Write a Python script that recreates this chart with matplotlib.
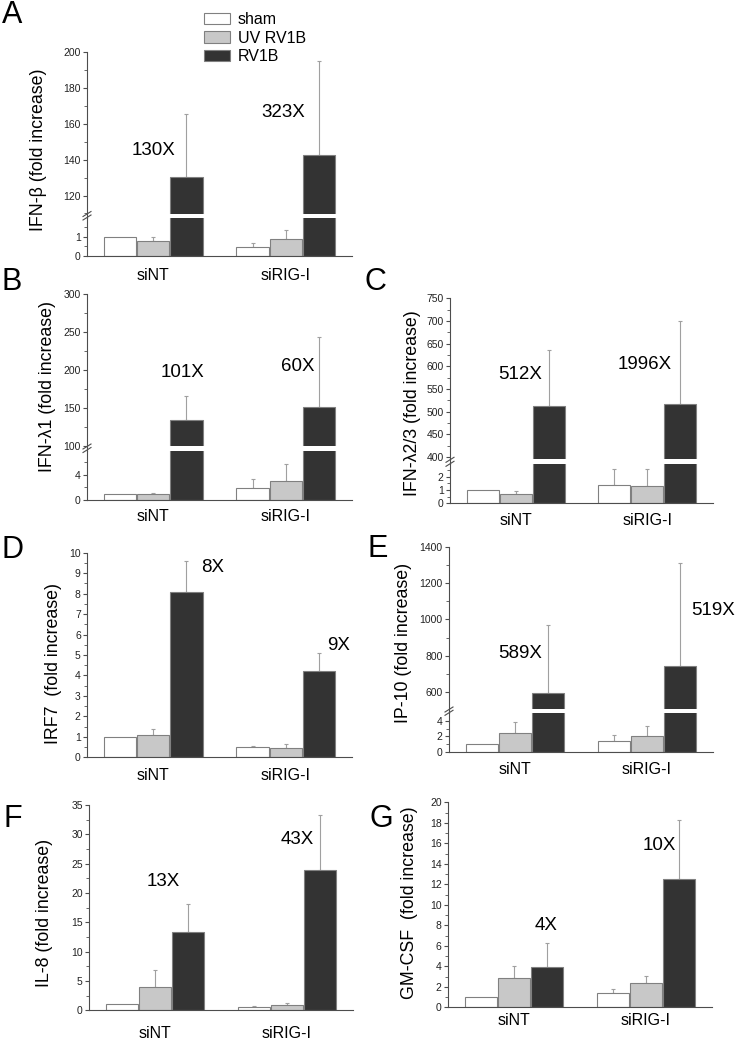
import numpy as np
import matplotlib.pyplot as plt
from matplotlib.ticker import MultipleLocator
from matplotlib.lines import Line2D

plt.rcParams['font.family'] = ['Liberation Sans', 'DejaVu Sans']

W, H = 738, 1050

groups = ["siNT", "siRIG-I"]
series = ["sham", "UV RV1B", "RV1B"]
colors = ["white", "#c8c8c8", "#333333"]

# A: IFN-beta
a_sham = [1.0, 0.45]
a_sham_err = [0.0, 0.21]
a_uv = [0.78, 0.87]
a_uv_err = [0.2, 0.47]
a_rv = [130.5, 142.5]
a_rv_err = [35.0, 52.5]
a_fold = ["130X", "323X"]

# B: IFN-lambda1
b_sham = [1.0, 1.85]
b_sham_err = [0.0, 1.5]
b_uv = [1.02, 2.95]
b_uv_err = [0.1, 2.65]
b_rv = [134.0, 151.0]
b_rv_err = [31.0, 92.5]
b_fold = ["101X", "60X"]

# C: IFN-lambda2/3
c_sham = [1.0, 1.36]
c_sham_err = [0.0, 1.22]
c_uv = [0.7, 1.33]
c_uv_err = [0.22, 1.25]
c_rv = [512.0, 518.0]
c_rv_err = [123.0, 182.0]
c_fold = ["512X", "1996X"]

# D: IRF7
d_sham = [1.0, 0.5]
d_sham_err = [0.0, 0.07]
d_uv = [1.08, 0.46]
d_uv_err = [0.3, 0.2]
d_rv = [8.1, 4.2]
d_rv_err = [1.5, 0.9]
d_fold = ["8X", "9X"]

# E: IP-10
e_sham = [1.0, 1.47]
e_sham_err = [0.0, 0.72]
e_uv = [2.5, 2.1]
e_uv_err = [1.35, 1.27]
e_rv = [590.0, 741.0]
e_rv_err = [380.0, 570.0]
e_fold = ["589X", "519X"]

# F: IL-8
f_sham = [1.0, 0.57]
f_sham_err = [0.0, 0.23]
f_uv = [3.9, 0.85]
f_uv_err = [3.0, 0.45]
f_rv = [13.3, 24.0]
f_rv_err = [4.8, 9.3]
f_fold = ["13X", "43X"]

# G: GM-CSF
g_sham = [1.0, 1.35]
g_sham_err = [0.0, 0.45]
g_uv = [2.85, 2.35]
g_uv_err = [1.15, 0.72]
g_rv = [3.93, 12.5]
g_rv_err = [2.3, 5.8]
g_fold = ["4X", "10X"]

# layout in pixels: left, right, (ymin, ymax, px_bottom, px_top) for lower / upper part
panels = [
    dict(letter="A", let_xy=(2, 23), ylabel="IFN-β (fold increase)", lab_xy=(39, 150),
         data=[(a_sham, a_sham_err), (a_uv, a_uv_err), (a_rv, a_rv_err)], fold=a_fold,
         fold_xy=[(0.0, 145), (0.98, 166)], l=87, r=352,
         low=(0, 1.97, 256, 218), low_ticks=(1, 0.5), up=(110, 200, 213.5, 51.7), up_ticks=(20, 10), pad=8.6),
    dict(letter="B", let_xy=(2, 290), ylabel="IFN-λ1 (fold increase)", lab_xy=(48, 387),
         data=[(b_sham, b_sham_err), (b_uv, b_uv_err), (b_rv, b_rv_err)], fold=b_fold,
         fold_xy=[(0.22, 196), (1.09, 204)], l=87, r=352,
         low=(0, 7.8, 500, 450.5), low_ticks=(4, 2), up=(100, 300, 446, 293.5), up_ticks=(50, 25), pad=6.5),
    dict(letter="C", let_xy=(364, 290), ylabel="IFN-λ2/3 (fold increase)", lab_xy=(412, 403),
         data=[(c_sham, c_sham_err), (c_uv, c_uv_err), (c_rv, c_rv_err)], fold=c_fold,
         fold_xy=[(0.03, 582), (0.98, 603)], l=450, r=713,
         low=(0, 2.93, 503.3, 464.3), low_ticks=(1, 0.5), up=(395, 750, 459.3, 298.3), up_ticks=(50, 25), pad=7),
    dict(letter="D", let_xy=(2, 558), ylabel="IRF7  (fold increase)", lab_xy=(54, 664),
         data=[(d_sham, d_sham_err), (d_uv, d_uv_err), (d_rv, d_rv_err)], fold=d_fold,
         fold_xy=[(0.45, 9.3), (1.40, 5.44)], l=87, r=352,
         low=(0, 10, 757.3, 552.7), low_ticks=(1, 0.5), up=None, pad=8),
    dict(letter="E", let_xy=(368, 557), ylabel="IP-10 (fold increase)", lab_xy=(403, 643),
         data=[(e_sham, e_sham_err), (e_uv, e_uv_err), (e_rv, e_rv_err)], fold=e_fold,
         fold_xy=[(0.04, 813), (1.5, 1048)], l=449, r=713,
         low=(0, 4.93, 752.3, 713.3), low_ticks=(2, 1), up=(504, 1400, 709, 547.3), up_ticks=(200, 100), pad=6.8),
    dict(letter="F", let_xy=(3, 827), ylabel="IL-8 (fold increase)", lab_xy=(45, 913),
         data=[(f_sham, f_sham_err), (f_uv, f_uv_err), (f_rv, f_rv_err)], fold=f_fold,
         fold_xy=[(0.06, 21.9), (1.08, 29.1)], l=89, r=353,
         low=(0, 35, 1010.3, 805), low_ticks=(5, 2.5), up=None, pad=11),
    dict(letter="G", let_xy=(370, 827), ylabel="GM-CSF  (fold increase)", lab_xy=(410, 903),
         data=[(g_sham, g_sham_err), (g_uv, g_uv_err), (g_rv, g_rv_err)], fold=g_fold,
         fold_xy=[(0.245, 8.0), (1.10, 15.8)], l=448, r=712,
         low=(0, 20, 1007.3, 802.3), low_ticks=(2, 1), up=None, pad=4.3),
]

SPINE = "#4d4d4d"
EDGE = "#808080"
ERR = "#a0a0a0"

fig = plt.figure(figsize=(W / 100, H / 100), dpi=100)


def make_ax(l, r, b, t):
    return fig.add_axes([l / W, 1 - b / H, (r - l) / W, (b - t) / H])


def draw_bars(ax, data):
    x = np.arange(len(groups))
    handles = []
    for i, (vals, errs) in enumerate(data):
        pos = x + (i - 1) * 0.25
        h = ax.bar(pos, vals, 0.245, color=colors[i], edgecolor=EDGE, linewidth=0.8, zorder=2)
        handles.append(h)
        for p, v, e in zip(pos, vals, errs):
            if e > 0:
                ax.errorbar([p], [v], yerr=[[0], [e]], fmt="none", ecolor=ERR,
                            elinewidth=0.8, capsize=1.5, capthick=0.8, zorder=1)
    ax.set_xlim(-0.5, 1.5)
    return handles


def style(ax, major, minor, bottom=True):
    for s in ["top", "right"]:
        ax.spines[s].set_visible(False)
    ax.spines["left"].set_color(SPINE)
    ax.spines["bottom"].set_color(SPINE)
    ax.spines["bottom"].set_visible(bottom)
    ax.yaxis.set_major_locator(MultipleLocator(major))
    ax.yaxis.set_minor_locator(MultipleLocator(minor))
    ax.tick_params(axis="y", which="major", length=3, width=0.8, color=SPINE,
                   labelsize=7.5, pad=1.5, labelcolor="#222222")
    ax.tick_params(axis="y", which="minor", length=2, width=0.6, color=SPINE)


legend_handles = None
for p in panels:
    y0, y1, pb, pt = p["low"]
    low = make_ax(p["l"], p["r"], pb, pt)
    hs = draw_bars(low, p["data"])
    low.set_ylim(y0, y1)
    style(low, *p["low_ticks"])
    low.set_xticks(range(len(groups)))
    low.set_xticklabels(groups, fontsize=11.5)
    low.tick_params(axis="x", length=0, pad=p["pad"])
    text_ax = low
    if p["up"] is not None:
        u0, u1, ub, ut = p["up"]
        up = make_ax(p["l"], p["r"], ub, ut)
        draw_bars(up, p["data"])
        up.set_ylim(u0, u1)
        style(up, *p["up_ticks"], bottom=False)
        up.set_xticks([])
        text_ax = up
        # continuous spine through the gap and break marks
        sx = p["l"] / W
        fig.add_artist(Line2D([sx, sx], [1 - pt / H, 1 - ub / H], color=SPINE, lw=0.8))
        for yy in (ub + 0.5, pt - 0.5):
            fig.add_artist(Line2D([(p["l"] - 4) / W, (p["l"] + 4) / W],
                                  [1 - (yy + 2.5) / H, 1 - (yy - 2.5) / H], color=SPINE, lw=0.8))
    for (fx, fy), txt in zip(p["fold_xy"], p["fold"]):
        text_ax.text(fx, fy, txt, ha="center", va="center", fontsize=13.5, clip_on=False)
    fig.text(p["lab_xy"][0] / W, 1 - p["lab_xy"][1] / H, p["ylabel"], rotation=90,
             ha="center", va="center", fontsize=12.8)
    fig.text(p["let_xy"][0] / W, 1 - p["let_xy"][1] / H, p["letter"], ha="left",
             va="baseline", fontsize=22)
    if legend_handles is None:
        legend_handles = hs

fig.legend(legend_handles, series, loc="upper left", bbox_to_anchor=(204 / W, 1 - 12 / H),
           frameon=False, fontsize=11.5, handlelength=1.6, handleheight=0.75,
           labelspacing=0.22, handletextpad=0.5, borderpad=0, borderaxespad=0)

fig.savefig("out.png", dpi=100)
